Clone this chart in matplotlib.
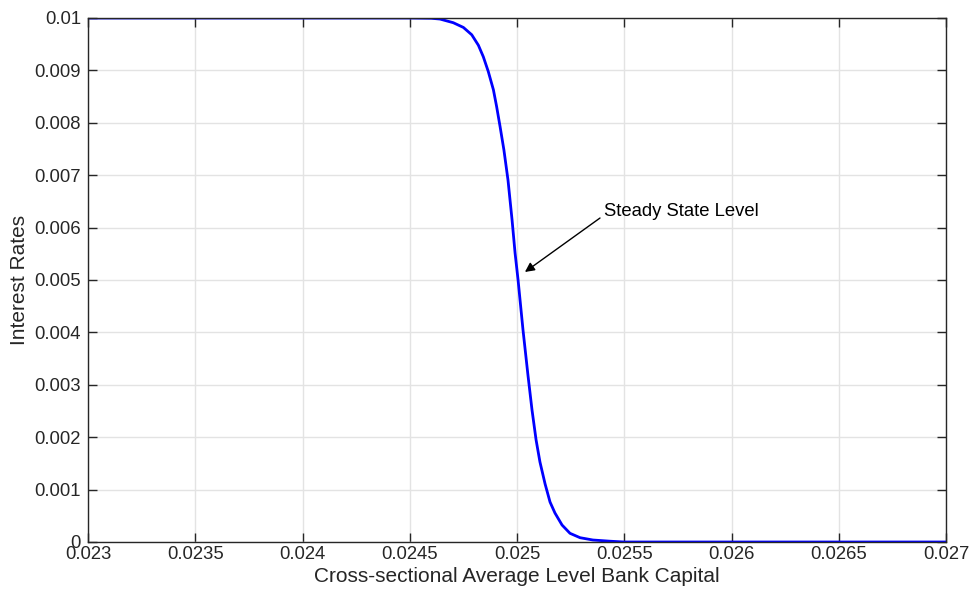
import matplotlib
matplotlib.use("Agg")
import matplotlib.pyplot as plt

capital = [0.0230, 0.0240, 0.0245, 0.02460, 0.024641, 0.024703, 0.024750, 0.024789,
           0.024820, 0.024843, 0.024866, 0.024890, 0.024905, 0.024921, 0.024939,
           0.024958, 0.024977, 0.024991, 0.025005, 0.025028, 0.025051, 0.025070,
           0.025089, 0.025107, 0.025131, 0.025154, 0.025177, 0.025210, 0.025247,
           0.025294, 0.025354, 0.025434, 0.0255, 0.0260, 0.0270]
rates = [0.0100, 0.0100, 0.0100, 0.009995, 0.009980, 0.009910, 0.009820, 0.009680,
         0.009480, 0.009260, 0.008980, 0.008630, 0.008310, 0.007930, 0.007481,
         0.006908, 0.006145, 0.005515, 0.005000, 0.004046, 0.003187, 0.002519,
         0.001947, 0.001527, 0.001107, 0.000763, 0.000553, 0.000324, 0.000166,
         0.000082, 0.000038, 0.000015, 0.0, 0.0, 0.0]

xticks = [0.023, 0.0235, 0.024, 0.0245, 0.025, 0.0255, 0.026, 0.0265, 0.027]
xtick_labels = ["0.023", "0.0235", "0.024", "0.0245", "0.025", "0.0255", "0.026", "0.0265", "0.027"]
yticks = [0, 0.001, 0.002, 0.003, 0.004, 0.005, 0.006, 0.007, 0.008, 0.009, 0.01]
ytick_labels = ["0", "0.001", "0.002", "0.003", "0.004", "0.005", "0.006", "0.007", "0.008", "0.009", "0.01"]

plt.rcParams['font.family'] = ['Liberation Sans', 'DejaVu Sans']

fig = plt.figure(figsize=(9.76, 5.92), dpi=100)
ax = fig.add_axes([88/976, 50/592, 858/976, 524/592])

ax.plot(capital, rates, color='#0000ff', linewidth=2, solid_joinstyle='round')
ax.set_xlim(0.023, 0.027)
ax.set_ylim(0, 0.01)
ax.set_xticks(xticks)
ax.set_xticklabels(xtick_labels)
ax.set_yticks(yticks)
ax.set_yticklabels(ytick_labels)
ax.grid(True, color='#e3e3e3', linewidth=1)
ax.set_axisbelow(True)
ax.tick_params(direction='in', top=True, right=True, length=6.5, width=1,
               labelsize=13.3, colors='#262626')
ax.tick_params(axis='x', pad=3)
ax.tick_params(axis='y', pad=5)
for s in ax.spines.values():
    s.set_color('#262626')
    s.set_linewidth(1)

ax.set_xlabel("Cross-sectional Average Level Bank Capital", fontsize=15, color='#262626', labelpad=3)
ax.set_ylabel("Interest Rates", fontsize=15, color='#262626', labelpad=4)

ax.text(0.025405, 0.006298, "Steady State Level", fontsize=13.3, va='center', ha='left', color='black')
ax.annotate("", xy=(0.025037, 0.005153), xytext=(0.025387, 0.006183),
            arrowprops=dict(arrowstyle='-|>', color='black', lw=1, mutation_scale=14,
                            shrinkA=0, shrinkB=0))

fig.savefig("out.png", dpi=100)
